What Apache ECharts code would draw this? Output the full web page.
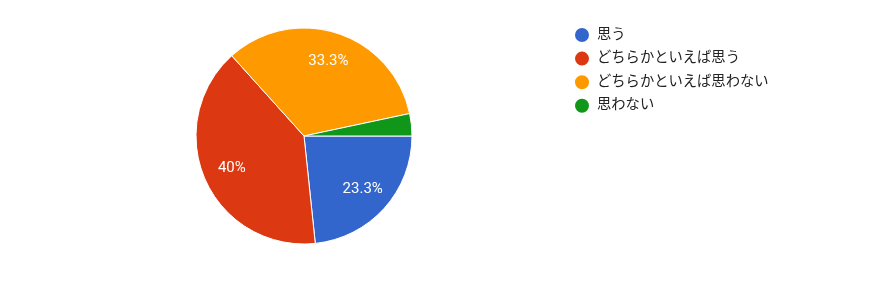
<!DOCTYPE html>
<html><head><meta charset="utf-8">
<script src="https://cdn.jsdelivr.net/npm/echarts@6/dist/echarts.min.js"></script>
<style>html,body{margin:0;padding:0;background:#fff}#c{width:886px;height:284px}</style>
</head><body><div id="c"></div>
<script>
const categories = ['思う', 'どちらかといえば思う', 'どちらかといえば思わない', '思わない'];
const counts = [7, 12, 10, 1];
const colors = ['#3366CC', '#DC3912', '#FF9900', '#109618'];
const data = categories.map((n, i) => ({name: n, value: counts[i]}));
const total = counts.reduce((a, b) => a + b, 0);
function fmt(p) {
  const v = Math.round(p.value / total * 1000) / 10;
  if (v < 5) return '';
  return (Number.isInteger(v) ? v.toFixed(0) : v.toFixed(1)) + '%';
}
const chart = echarts.init(document.getElementById('c'));
chart.setOption({
  color: colors,
  animation: false,
  legend: {
    orient: 'vertical', left: 568, top: 21,
    icon: 'circle', itemWidth: 16, itemHeight: 16, itemGap: 5.6,
    textStyle: {fontSize: 14.3, color: '#222', padding: [0, 0, 0, 2],
      fontFamily: "Roboto, 'Noto Sans CJK JP', sans-serif"},
    data: categories
  },
  series: [{
    type: 'pie', center: [304, 136], radius: [0, 108], startAngle: 0, clockwise: true,
    itemStyle: {borderColor: '#fff', borderWidth: 1},
    label: {show: false}, labelLine: {show: false}, emphasis: {disabled: true},
    data: data
  }, {
    type: 'pie', center: [304, 136], radius: [44, 108], startAngle: 0, clockwise: true,
    silent: true, itemStyle: {color: 'rgba(0,0,0,0)'},
    label: {show: true, position: 'inside', formatter: fmt, color: '#fff', fontSize: 15,
      fontFamily: "Roboto, 'Liberation Sans', sans-serif"},
    labelLine: {show: false}, emphasis: {disabled: true},
    data: data
  }]
});
</script></body></html>
